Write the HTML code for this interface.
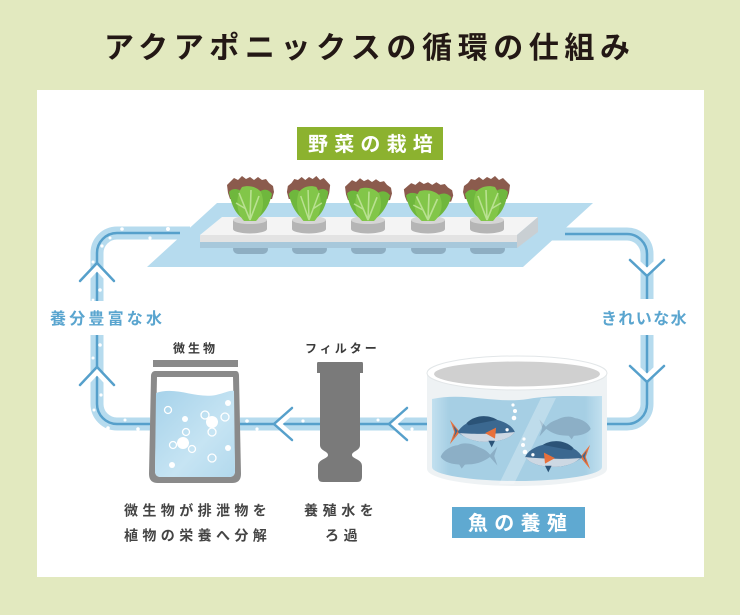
<!DOCTYPE html>
<html><head><meta charset="utf-8"><style>
html,body{margin:0;padding:0;background:#e2e9bf;}
svg{display:block;}
text{font-family:"Liberation Sans","Noto Sans CJK JP",sans-serif;font-weight:bold;}
</style></head><body>
<svg width="740" height="615" viewBox="0 0 740 615" xmlns="http://www.w3.org/2000/svg">
<defs>
<g id="lettuce">
  <path d="M-22,-28 L-23,-36 L-19,-40 L-16,-43 L-12,-41 L-8,-45 L-4,-42 L0,-44 L4,-41 L8,-44 L12,-41 L16,-42 L19,-38 L23,-35 L24,-29 L22,-22 L-20,-22 Z" fill="#8b5b4d"/>
  <path d="M-3,0 C-12,-4 -18,-12 -21,-29 C-18,-33 -12,-33 -8,-29 C-5,-20 -3,-10 -3,0 Z" fill="#6fb73d"/>
  <path d="M3,0 C12,-4 19,-14 22,-27 C18,-33 12,-32 8,-28 C5,-19 3,-9 3,0 Z" fill="#6fb73d"/>
  <path d="M-6,0 C-14,-8 -15,-24 -8,-34 C-2,-36 6,-35 11,-29 C15,-19 13,-7 6,0 Z" fill="#82c649"/>
  <path d="M0,-1 L-11,-28 M0,-1 L9,-25 M0,-1 L1,-31 M-4,-12 L-14,-18" stroke="#c3e59d" stroke-width="1.6" fill="none" opacity="0.85"/>
</g>
<g id="fish">
  <path d="M-22,0 L-31,-11 L-27,0 L-31,11 Z" fill="#e8703b"/>
  <path d="M-24,-1 L-28,-6 L-26,0 L-28,6 Z" fill="#3b6890"/>
  <path d="M-24,0 C-18,-10 -4,-14 12,-11 C20,-9 26,-5 28,0 C24,6 14,9 2,9 C-10,9 -18,5 -24,0 Z" fill="#3b6890"/>
  <path d="M-16,-8 C-8,-16 4,-16 12,-11 L-14,-6 Z" fill="#2b5377"/>
  <path d="M-22,1 C-10,2 10,2 28,0 C24,6 14,9 2,9 C-10,9 -18,5 -22,1 Z" fill="#cdd8e3"/>
  <path d="M1,1 L11,-4 L10,6 Z" fill="#e8703b"/>
  <path d="M4,8 L7,14 L10,8 Z" fill="#2b5377"/>
  <circle cx="21" cy="-2" r="1.5" fill="#fff"/>
</g>
<g id="sfish">
  <path d="M-20,0 L-28,-9 L-25,0 L-28,9 Z" fill="#8cafc6"/>
  <path d="M-22,0 C-16,-9 -2,-12 12,-10 C20,-8 25,-3 26,1 C22,7 12,9 0,8 C-10,8 -17,4 -22,0 Z" fill="#8cafc6"/>
  <path d="M-12,-7 C-4,-13 6,-13 10,-10 Z" fill="#8cafc6"/>
  <path d="M2,7 L6,12 L9,7 Z" fill="#8cafc6"/>
</g>
<linearGradient id="wg" x1="0" x2="1" y1="0" y2="0">
  <stop offset="0" stop-color="#c2e0ef"/><stop offset="0.1" stop-color="#a6cfe4"/>
  <stop offset="0.9" stop-color="#a6cfe4"/><stop offset="1" stop-color="#c2e0ef"/>
</linearGradient>
<linearGradient id="bg2" x1="0" x2="1" y1="0" y2="1">
  <stop offset="0" stop-color="#a6d2ea"/><stop offset="0.6" stop-color="#c6e4f3"/><stop offset="1" stop-color="#b2d9ed"/>
</linearGradient>
</defs>

<rect width="740" height="615" fill="#e2e9bf"/>
<rect x="37" y="90" width="667" height="487" fill="#ffffff"/>

<text x="104" y="58" font-size="30" fill="#231815" style="letter-spacing:5.6px">アクアポニックスの循環の仕組み</text>

<rect x="297" y="127" width="146" height="33" fill="#8cb22f"/>
<text x="308" y="151" font-size="20" fill="#ffffff" style="letter-spacing:6.2px">野菜の栽培</text>

<polygon points="217,203 593,203 523,267 147,267" fill="#b6dbee"/>

<g fill="none" stroke-linecap="butt">
  <path d="M190,233 H117 A20,20 0 0 0 97,253 V404 A20,20 0 0 0 117,424 H150" stroke="#b6dbee" stroke-width="13"/>
  <path d="M180,233 H117 A20,20 0 0 0 97,253 V404 A20,20 0 0 0 117,424 H150" stroke="#56a0cb" stroke-width="2.5"/>
  <path d="M240,424 H430" stroke="#b6dbee" stroke-width="13"/>
  <path d="M240,424 H430" stroke="#56a0cb" stroke-width="2.5"/>
  <path d="M550,234 H627 A20,20 0 0 1 647,254 V404 A20,20 0 0 1 627,424 H605" stroke="#b6dbee" stroke-width="13"/>
  <path d="M565,234 H627 A20,20 0 0 1 647,254 V404 A20,20 0 0 1 627,424 H605" stroke="#56a0cb" stroke-width="2.5"/>
</g>
<g fill="#ffffff">
  <circle cx="168" cy="229" r="2"/><circle cx="150" cy="238" r="1.6"/><circle cx="122" cy="229" r="1.8"/><circle cx="110" cy="238" r="1.5"/>
  <circle cx="102" cy="246" r="1.6"/><circle cx="93" cy="262" r="1.5"/><circle cx="100" cy="290" r="1.8"/><circle cx="93" cy="300" r="1.4"/>
  <circle cx="100" cy="345" r="1.8"/><circle cx="93" cy="358" r="1.5"/><circle cx="101" cy="395" r="1.6"/><circle cx="94" cy="410" r="1.5"/>
  <circle cx="108" cy="428" r="1.8"/><circle cx="125" cy="420" r="1.5"/><circle cx="138" cy="429" r="1.8"/>
  <circle cx="247" cy="421" r="1.8"/><circle cx="257" cy="429" r="1.6"/><circle cx="303" cy="421" r="1.6"/>
  <circle cx="378" cy="420" r="1.5"/><circle cx="397" cy="429" r="1.8"/><circle cx="412" cy="429" r="1.6"/>
</g>

<g fill="none" stroke-linecap="round" stroke-linejoin="miter">
  <polyline points="80,286 97,268 114,286" stroke="#ffffff" stroke-width="5"/>
  <polyline points="80,281 97,263 114,281" stroke="#56a0cb" stroke-width="2.5"/>
  <polyline points="80,390 97,372 114,390" stroke="#ffffff" stroke-width="5"/>
  <polyline points="80,385 97,367 114,385" stroke="#56a0cb" stroke-width="2.5"/>
  <polyline points="630,255 647,271 664,255" stroke="#ffffff" stroke-width="5"/>
  <polyline points="630,260 647,276 664,260" stroke="#56a0cb" stroke-width="2.5"/>
  <polyline points="630,361 647,377 664,361" stroke="#ffffff" stroke-width="5"/>
  <polyline points="630,366 647,382 664,366" stroke="#56a0cb" stroke-width="2.5"/>
  <polyline points="297,408 279,424 297,440" stroke="#ffffff" stroke-width="5"/>
  <polyline points="292,408 274,424 292,440" stroke="#56a0cb" stroke-width="2.5"/>
  <polyline points="412,408 394,424 412,440" stroke="#ffffff" stroke-width="5"/>
  <polyline points="407,408 389,424 407,440" stroke="#56a0cb" stroke-width="2.5"/>
</g>

<rect x="45" y="301" width="122" height="34" fill="#ffffff"/>
<text x="50" y="324" font-size="16" fill="#5aa5cf" style="letter-spacing:3.2px">養分豊富な水</text>
<rect x="597" y="299" width="94" height="36" fill="#ffffff"/>
<text x="601" y="324" font-size="16" fill="#5aa5cf" style="letter-spacing:1.4px">きれいな水</text>

<g>
  <g fill="#8eaec2">
    <rect x="233" y="244" width="35" height="10" rx="5"/>
    <rect x="292" y="244" width="35" height="10" rx="5"/>
    <rect x="351" y="244" width="35" height="10" rx="5"/>
    <rect x="411" y="244" width="35" height="10" rx="5"/>
    <rect x="470" y="244" width="35" height="10" rx="5"/>
  </g>
  <rect x="200" y="241" width="317" height="7" fill="#a7c8db"/>
  <polygon points="222,217 538,217 517,235 200,235" fill="#f4f4f4"/>
  <rect x="200" y="235" width="317" height="7" fill="#e3e3e3"/>
  <polygon points="517,235 538,217 538,232 517,248" fill="#c9cfd3"/>
</g>
<g>
  <g transform="translate(250,0)">
    <path d="M-17,220 V229 A17,4.5 0 0 0 17,229 V220 Z" fill="#b5b5b5"/>
    <ellipse cx="0" cy="220" rx="17" ry="4" fill="#d5d5d5"/>
    <use href="#lettuce" transform="translate(0,221)"/>
  </g>
  <g transform="translate(309,0)">
    <path d="M-17,220 V229 A17,4.5 0 0 0 17,229 V220 Z" fill="#b5b5b5"/>
    <ellipse cx="0" cy="220" rx="17" ry="4" fill="#d5d5d5"/>
    <use href="#lettuce" transform="translate(0,221) scale(-0.92,1)"/>
  </g>
  <g transform="translate(368,0)">
    <path d="M-17,220 V229 A17,4.5 0 0 0 17,229 V220 Z" fill="#b5b5b5"/>
    <ellipse cx="0" cy="220" rx="17" ry="4" fill="#d5d5d5"/>
    <use href="#lettuce" transform="translate(0,221) scale(1,0.95)"/>
  </g>
  <g transform="translate(428,0)">
    <path d="M-17,220 V229 A17,4.5 0 0 0 17,229 V220 Z" fill="#b5b5b5"/>
    <ellipse cx="0" cy="220" rx="17" ry="4" fill="#d5d5d5"/>
    <use href="#lettuce" transform="translate(0,221) scale(1.05,0.88)"/>
  </g>
  <g transform="translate(487,0)">
    <path d="M-17,220 V229 A17,4.5 0 0 0 17,229 V220 Z" fill="#b5b5b5"/>
    <ellipse cx="0" cy="220" rx="17" ry="4" fill="#d5d5d5"/>
    <use href="#lettuce" transform="translate(0,221) scale(-1,1)"/>
  </g>
</g>

<text x="173" y="352.5" font-size="12" fill="#3a3a3a" style="letter-spacing:3px">微生物</text>
<rect x="153" y="360" width="85" height="7" fill="#8a8a8a"/>
<path d="M155,371 H236 C238,371 239,373 239,376 L241,474 Q241,483 232,483 H158 Q149,483 149,474 L151,376 C151,373 153,371 155,371 Z" fill="#8a8a8a"/>
<path d="M157,377 H233 L235,471 Q235,477 229,477 H161 Q155,477 155,471 Z" fill="#ffffff"/>
<path d="M156,393 C176,386 196,399 216,395 C225,393 230,390 234,391 L235,471 Q235,477 229,477 H161 Q155,477 155,471 Z" fill="url(#bg2)"/>
<g fill="#ffffff">
  <circle cx="212" cy="422" r="6"/><circle cx="183" cy="443" r="6"/>
  <circle cx="228" cy="403" r="3"/><circle cx="185" cy="419" r="3"/><circle cx="228" cy="448" r="3"/><circle cx="172" cy="465" r="3"/>
</g>
<g fill="none" stroke="#ffffff" stroke-width="1.3">
  <circle cx="168" cy="410" r="3.5"/><circle cx="205" cy="415" r="4"/><circle cx="225" cy="417" r="4"/>
  <circle cx="212" cy="432" r="4"/><circle cx="186" cy="432" r="3.5"/><circle cx="173" cy="445" r="3.5"/>
  <circle cx="192" cy="449" r="3.5"/><circle cx="212" cy="458" r="4"/>
</g>

<text x="305" y="352.5" font-size="12" fill="#3a3a3a" style="letter-spacing:3px">フィルター</text>
<path d="M318,362 H362 Q363,362 363,364 V373 H360 V445 C360,451 352,451 352,455 C352,459 362,459 362,466 V477 Q362,482 357,482 H323 Q318,482 318,477 V466 C318,459 328,459 328,455 C328,451 320,451 320,445 V373 H317 V364 Q317,362 318,362 Z" fill="#7a7a7a"/>

<path d="M427,373 V469 A90,17 0 0 0 607,469 V373 Z" fill="#eef2f4"/>
<path d="M432,399 C465,392 495,404 528,399 C556,394 582,397 602,396 V467 A85,14 0 0 1 432,467 Z" fill="url(#wg)"/>
<ellipse cx="517" cy="373" rx="90" ry="17" fill="#ffffff" stroke="#e2e6e8" stroke-width="1"/>
<ellipse cx="517" cy="374" rx="83" ry="12.5" fill="#d0d0d0"/>
<use href="#sfish" transform="translate(468,456) scale(-1.05,1.05)"/>
<use href="#sfish" transform="translate(566,428) scale(0.95,0.95)"/>
<polygon points="541,398 556,398 514,484 499,484" fill="#ffffff" opacity="0.28"/>
<use href="#fish" transform="translate(484,432) scale(1.1)"/>
<use href="#fish" transform="translate(556,457) scale(-1.1,1.1)"/>
<g fill="#ffffff">
  <circle cx="513" cy="405" r="1.6"/><circle cx="515" cy="411" r="2"/><circle cx="514" cy="418" r="2.3"/>
  <circle cx="524" cy="439" r="1.6"/><circle cx="523" cy="445" r="2"/><circle cx="525" cy="452" r="2.3"/>
</g>

<rect x="452" y="507" width="133" height="31" fill="#5fa9d1"/>
<text x="468" y="530" font-size="20" fill="#ffffff" style="letter-spacing:6.3px">魚の養殖</text>

<text x="124" y="515.5" font-size="14" fill="#444444" style="letter-spacing:4.4px">微生物が排泄物を</text>
<text x="124" y="540.5" font-size="14" fill="#444444" style="letter-spacing:4.4px">植物の栄養へ分解</text>
<text x="304" y="515.5" font-size="14" fill="#444444" style="letter-spacing:4.6px">養殖水を</text>
<text x="325" y="540.5" font-size="14" fill="#444444" style="letter-spacing:4.6px">ろ過</text>
</svg>
</body></html>
